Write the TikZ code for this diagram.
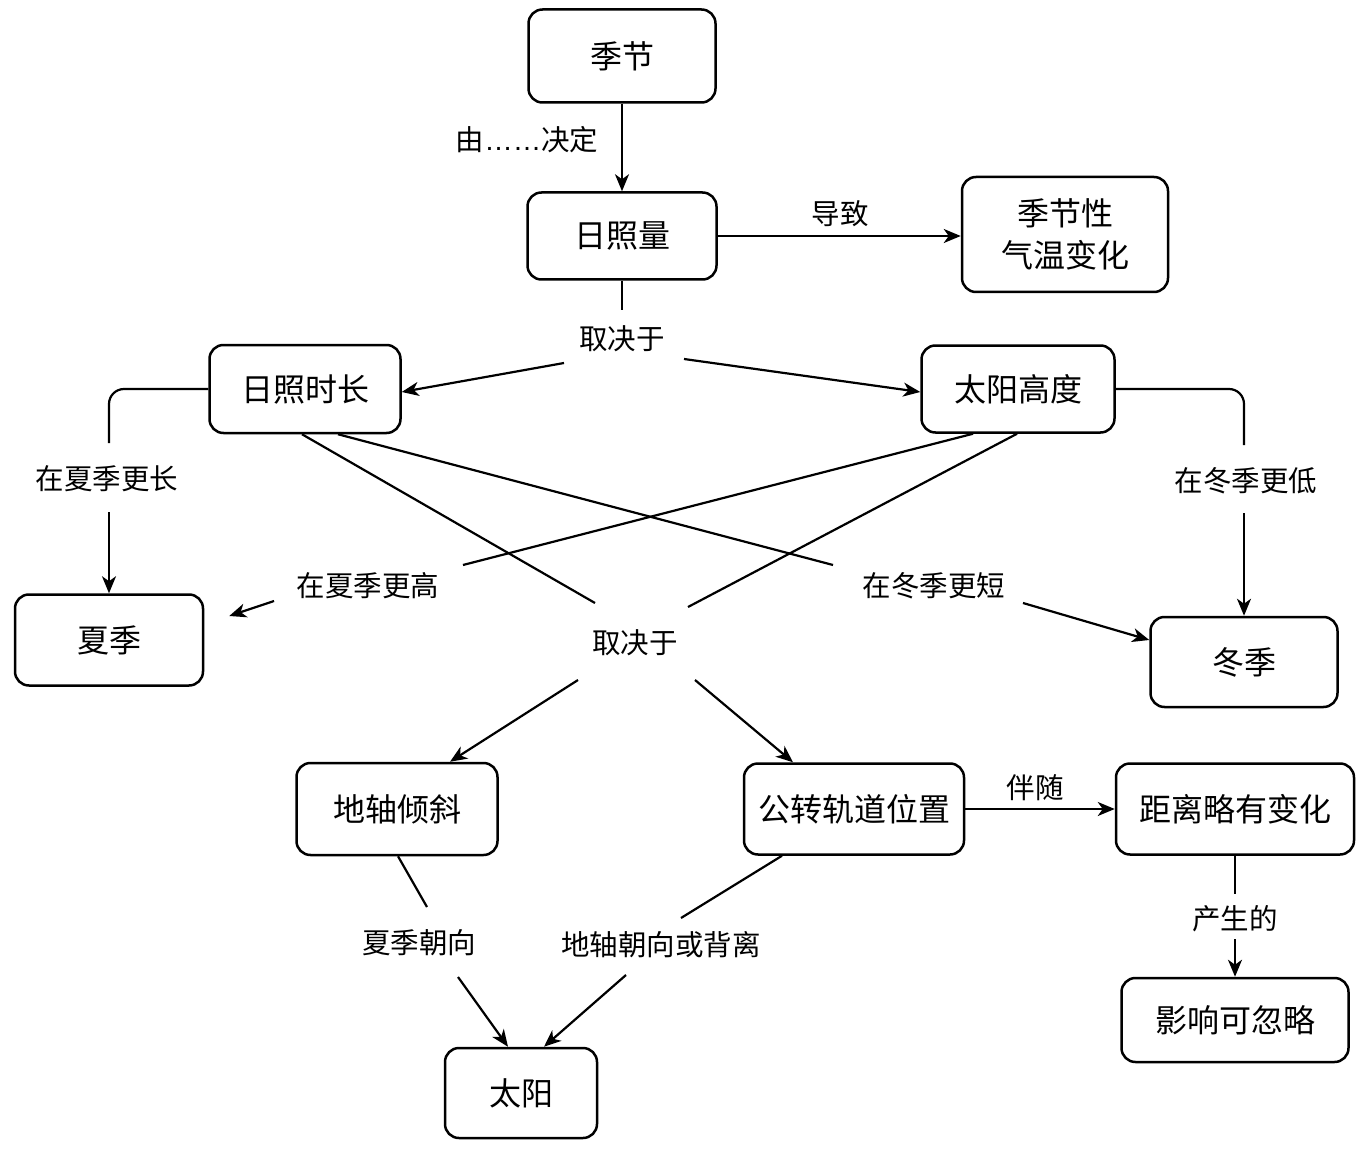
\documentclass[tikz,border=0pt]{standalone}
\usepackage{fontspec}
\setmainfont{Noto Sans CJK SC}
\newfontfamily\ellfont{Liberation Sans}
\usetikzlibrary{arrows.meta}
\newcommand\bxfont{\fontsize{32pt}{42pt}\selectfont}
\newcommand\lbfont{\fontsize{28.5pt}{34pt}\selectfont}
\begin{document}
\begin{tikzpicture}[x=1pt,y=-1pt,
  box/.style={draw, line width=2.5pt, rounded corners=14pt, font=\bxfont, align=center, inner sep=0pt},
  lbl/.style={font=\lbfont, inner sep=0pt},
  con/.style={line width=2.2pt},
  arr/.style={con, -{Stealth[length=17pt,width=14pt,inset=5pt]}}]
\fill[white] (0,0) rectangle (1368,1150);
\useasboundingbox (0,0) rectangle (1368,1150);

% concept boxes
\node[box, minimum width=187pt, minimum height=93pt] (jj) at (622,56) {季节};
\node[box, minimum width=189pt, minimum height=87pt] (rzl) at (622,236) {日照量};
\node[box, minimum width=206pt, minimum height=115pt] (qwbh) at (1065,234.5) {季节性\\气温变化};
\node[box, minimum width=191pt, minimum height=88pt] (rzsc) at (305,389) {日照时长};
\node[box, minimum width=193pt, minimum height=87pt] (tygd) at (1018,389) {太阳高度};
\node[box, minimum width=188pt, minimum height=91pt] (xj) at (109,640) {夏季};
\node[box, minimum width=187pt, minimum height=90pt] (dj) at (1244,662) {冬季};
\node[box, minimum width=201pt, minimum height=92pt] (dzqx) at (397,809) {地轴倾斜};
\node[box, minimum width=220pt, minimum height=91pt] (gzgd) at (854,809) {公转轨道位置};
\node[box, minimum width=238pt, minimum height=91pt] (jlbh) at (1235,809) {距离略有变化};
\node[box, minimum width=227pt, minimum height=84pt] (yxkhl) at (1235,1020) {影响可忽略};
\node[box, minimum width=152pt, minimum height=90pt] (ty) at (521,1093) {太阳};

% linking phrases
\node[lbl] (l1) at (527,140) {由{\ellfont ……}决定};
\node[lbl] (l2) at (840,214) {导致};
\node[lbl] (q1) at (622,339) {取决于};
\node[lbl] (l6) at (107,479) {在夏季更长};
\node[lbl] (l7) at (1246,481) {在冬季更低};
\node[lbl] (q2) at (635,643) {取决于};
\node[lbl] (l10) at (934,586) {在冬季更短};
\node[lbl] (l11) at (368,586) {在夏季更高};
\node[lbl] (l14) at (1035,788) {伴随};
\node[lbl] (l15) at (1235,919) {产生的};
\node[lbl] (l16) at (419,943) {夏季朝向};
\node[lbl] (l17) at (661,945) {地轴朝向或背离};

% connectors
\draw[arr] (jj) -- (rzl);
\draw[arr] (rzl.east) -- (rzl.east -| qwbh.west);

\draw[con] (rzl.south) -- ([shift={(0,-29)}]q1.center);
\draw[arr] ([shift={(-58,24)}]q1.center) -- ([shift={(0,3)}]rzsc.east);
\draw[arr] ([shift={(62,20)}]q1.center) -- ([shift={(0,3)}]tygd.west);

\draw[con, rounded corners=15pt] (rzsc.west) -| ([shift={(0,-36)}]xj.north |- l6.center);
\draw[arr] ([shift={(0,33)}]xj.north |- l6.center) -- (xj.north);

\draw[con, rounded corners=15pt] (tygd.east) -| ([shift={(0,-36)}]dj.north |- l7.center);
\draw[arr] ([shift={(0,32)}]dj.north |- l7.center) -- (dj.north);

\draw[con] ([xshift=-3pt]rzsc.south) -- ([shift={(-40,-40)}]q2.center);
\draw[con] ([xshift=-1pt]tygd.south) -- ([shift={(53,-36)}]q2.center);

\draw[con] ([xshift=33pt]rzsc.south) -- ([shift={(-101,-21)}]l10.center);
\draw[arr] ([shift={(89,17)}]l10.center) -- ([shift={(0,-22)}]dj.west);

\draw[con] ([xshift=-45pt]tygd.south) -- ([shift={(95,-21)}]l11.center);
\draw[arr] ([shift={(-94,15)}]l11.center) -- ([shift={(25,-24)}]xj.east);

\draw[arr] ([shift={(-57,37)}]q2.center) -- ([xshift=53pt]dzqx.north);
\draw[arr] ([shift={(60,37)}]q2.center) -- ([xshift=-61pt]gzgd.north);

\draw[arr] (gzgd.east) -- (jlbh.west);

\draw[con] (jlbh.south) -- ([shift={(0,-25)}]l15.center);
\draw[arr] ([shift={(0,20)}]l15.center) -- (yxkhl.north);

\draw[con] ([xshift=1pt]dzqx.south) -- ([shift={(8,-36)}]l16.center);
\draw[arr] ([shift={(39,34)}]l16.center) -- ([xshift=-13pt]ty.north);

\draw[con] ([xshift=-72pt]gzgd.south) -- ([shift={(20,-27)}]l17.center);
\draw[arr] ([shift={(-35,30)}]l17.center) -- ([xshift=23pt]ty.north);
\end{tikzpicture}
\end{document}
